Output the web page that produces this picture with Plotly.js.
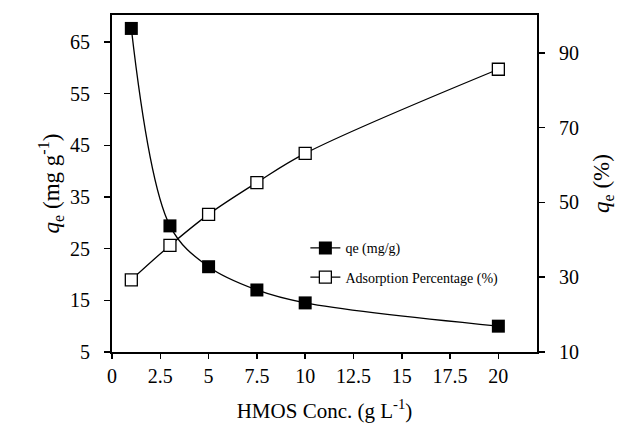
<!DOCTYPE html>
<html>
<head>
<meta charset="utf-8">
<script src="https://cdn.plot.ly/plotly-3.0.1.min.js"></script>
<style>html,body{margin:0;padding:0;background:#fff;}#chart{width:617px;height:423px;}</style>
</head>
<body>
<div id="chart"></div>
<script>
const conc = [1, 3, 5, 7.5, 10, 20];
const qe = [67.6, 29.4, 21.5, 17.0, 14.5, 10.0];
const adsPct = [29.3, 38.5, 46.8, 55.3, 63.1, 85.6];
const xTicks = [0, 2.5, 5, 7.5, 10, 12.5, 15, 17.5, 20];
const yTicks = [5, 15, 25, 35, 45, 55, 65];
const y2Ticks = [10, 30, 50, 70, 90];

const font = 'Liberation Serif';

const traces = [
  {
    x: conc, y: qe, name: 'qe (mg/g)', type: 'scatter', mode: 'lines+markers',
    line: {color: '#000', width: 1.3, shape: 'spline', smoothing: 1},
    marker: {symbol: 'square', size: 13, color: '#000', line: {color: '#000', width: 0}},
    legendgroup: 'a'
  },
  {
    x: conc, y: adsPct, name: 'Adsorption Percentage (%)', type: 'scatter', mode: 'lines+markers',
    yaxis: 'y2',
    line: {color: '#000', width: 1.3, shape: 'spline', smoothing: 1},
    marker: {symbol: 'square', size: 12, color: '#fff', line: {color: '#000', width: 1.3}},
    legendgroup: 'b'
  }
];

const layout = {
  width: 617, height: 423,
  margin: {l: 112, r: 80, t: 15, b: 71},
  paper_bgcolor: '#fff', plot_bgcolor: '#fff',
  font: {family: font, color: '#000', size: 20},
  showlegend: true,
  legend: {
    x: 0.455, y: 0.355, xanchor: 'left', yanchor: 'top',
    bgcolor: 'rgba(0,0,0,0)', font: {family: font, size: 14, color: '#000'},
    traceorder: 'grouped', tracegroupgap: 8, itemwidth: 30
  },
  xaxis: {
    range: [0, 22], tickvals: xTicks, ticktext: xTicks.map(String),
    showgrid: false, zeroline: false, showline: true, linecolor: '#000', linewidth: 2,
    mirror: true, ticks: 'outside', ticklen: 5, tickcolor: '#000', tickwidth: 1.5,
    tickfont: {family: font, size: 20},
    title: {text: 'HMOS Conc. (g L<sup>-1</sup>)', font: {family: font, size: 21}, standoff: 19}
  },
  yaxis: {
    range: [5, 70.2], tickvals: yTicks, ticktext: yTicks.map(String),
    showgrid: false, zeroline: false, showline: true, linecolor: '#000', linewidth: 2,
    ticks: 'outside', ticklen: 6, tickcolor: '#000', tickwidth: 1.5,
    ticklabelstandoff: 10,
    tickfont: {family: font, size: 20},
    title: {text: '<i>q</i><sub>e</sub> (mg g<sup>-1</sup>)', font: {family: font, size: 23}, standoff: 4}
  },
  yaxis2: {
    overlaying: 'y', side: 'right',
    range: [10, 100.1], tickvals: y2Ticks, ticktext: y2Ticks.map(String),
    showgrid: false, zeroline: false, showline: true, linecolor: '#000', linewidth: 2,
    ticks: 'outside', ticklen: 6, tickcolor: '#000', tickwidth: 1.5,
    ticklabelstandoff: 10,
    tickfont: {family: font, size: 20},
    title: {text: '<i>q</i><sub>e</sub> (%)', font: {family: font, size: 23}, standoff: 22}
  }
};

Plotly.newPlot('chart', traces, layout, {displayModeBar: false, staticPlot: true});
</script>
</body>
</html>
